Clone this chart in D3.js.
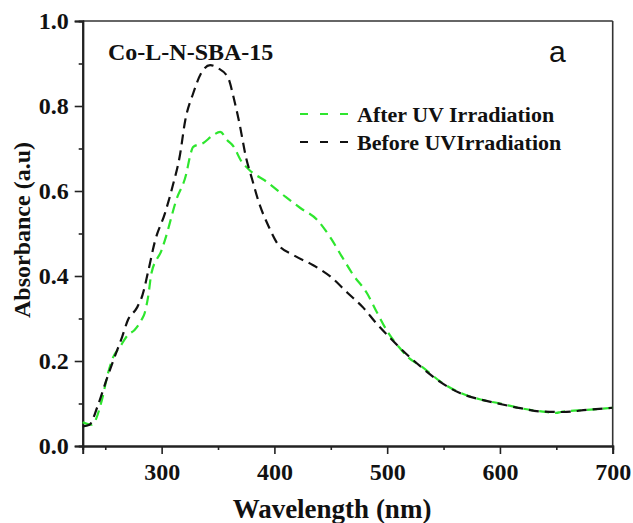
<!DOCTYPE html>
<html>
<head>
<meta charset="utf-8">
<script src="https://cdn.jsdelivr.net/npm/d3@7"></script>
<style>
  html, body { margin: 0; padding: 0; background: #fff; }
  svg { display: block; }
</style>
</head>
<body>
<svg id="chart" width="633" height="523"></svg>
<script>
// UV-Vis absorbance of Co-L-N-SBA-15 before and after UV irradiation
const beforeWavelength = [230, 236, 243, 251, 257, 265, 270, 278, 283, 288, 294, 303, 310, 316, 321, 328, 335, 343, 350, 359, 364, 369, 375, 380, 386, 395, 403, 417, 434, 450, 465, 479, 490, 502, 518, 531, 547, 565, 582, 600, 618, 638, 656, 677, 700];
const beforeAbsorbance = [0.046, 0.05, 0.092, 0.155, 0.2, 0.257, 0.296, 0.325, 0.355, 0.41, 0.481, 0.548, 0.614, 0.681, 0.767, 0.83, 0.877, 0.896, 0.889, 0.866, 0.818, 0.759, 0.677, 0.63, 0.575, 0.516, 0.475, 0.449, 0.426, 0.398, 0.36, 0.325, 0.29, 0.256, 0.214, 0.184, 0.151, 0.124, 0.11, 0.099, 0.089, 0.081, 0.08, 0.085, 0.09];

const afterWavelength = [230, 238, 247, 252, 257, 263, 270, 276, 282, 285, 288, 291, 300, 303, 313, 322, 325, 328, 337, 345, 352, 358, 364, 370, 378, 393, 410, 423, 438, 450, 460, 470, 482, 491, 501, 511, 518, 531, 547, 565, 582, 600, 618, 638, 650, 654, 677, 700];
const afterAbsorbance = [0.056, 0.05, 0.108, 0.167, 0.209, 0.233, 0.261, 0.273, 0.296, 0.313, 0.351, 0.407, 0.461, 0.485, 0.579, 0.642, 0.68, 0.704, 0.713, 0.73, 0.739, 0.72, 0.704, 0.673, 0.649, 0.622, 0.586, 0.56, 0.532, 0.489, 0.445, 0.402, 0.36, 0.314, 0.266, 0.231, 0.21, 0.186, 0.152, 0.125, 0.11, 0.1, 0.089, 0.081, 0.078, 0.08, 0.085, 0.09];

const xTicks = [300, 400, 500, 600, 700];
const xMinorTicks = [250, 350, 450, 550, 650];
const yTicks = [0.0, 0.2, 0.4, 0.6, 0.8, 1.0];
const yMinorTicks = [0.1, 0.3, 0.5, 0.7, 0.9];

const seriesNames = ["After UV Irradiation", "Before UVIrradiation"];
const seriesColors = ["#2ee62e", "#111111"];

const svg = d3.select("#chart");
const plotLeft = 82.7, plotRight = 612.7, plotTop = 21, plotBottom = 446;

const x = d3.scaleLinear().domain([230, 700]).range([plotLeft, plotRight]);
const y = d3.scaleLinear().domain([0, 1.0]).range([plotBottom, plotTop]);

const serif = "'Liberation Serif', 'Times New Roman', serif";

// frame (top and right)
svg.append("line").attr("x1", plotLeft).attr("x2", plotRight).attr("y1", plotTop).attr("y2", plotTop)
  .attr("stroke", "#333").attr("stroke-width", 1.6);
svg.append("line").attr("x1", plotRight).attr("x2", plotRight).attr("y1", plotTop).attr("y2", plotBottom)
  .attr("stroke", "#333").attr("stroke-width", 1.6);

// bottom axis
const xAxis = d3.axisBottom(x).tickValues(xTicks).tickFormat(d3.format("d")).tickSize(8).tickPadding(9);
const gx = svg.append("g").attr("transform", `translate(0,${plotBottom})`).call(xAxis);
gx.selectAll(".tick text").attr("font-family", serif).attr("font-weight", "bold").attr("font-size", 24).attr("fill", "#111");
gx.append("g").call(d3.axisBottom(x).tickValues(xMinorTicks).tickSize(4).tickFormat(""));

// left axis
const yAxis = d3.axisLeft(y).tickValues(yTicks).tickFormat(d3.format(".1f")).tickSize(8).tickPadding(6);
const gy = svg.append("g").attr("transform", `translate(${plotLeft},0)`).call(yAxis);
gy.selectAll(".tick text").attr("font-family", serif).attr("font-weight", "bold").attr("font-size", 24).attr("fill", "#111");
gy.append("g").call(d3.axisLeft(y).tickValues(yMinorTicks).tickSize(4).tickFormat(""));

svg.selectAll(".domain").attr("stroke", "#222").attr("stroke-width", 2);
svg.selectAll(".tick line").attr("stroke", "#222").attr("stroke-width", 1.6);

// axis titles
svg.append("text")
  .attr("x", 332).attr("y", 518)
  .attr("text-anchor", "middle")
  .attr("font-family", serif).attr("font-weight", "bold").attr("font-size", 27).attr("fill", "#111")
  .text("Wavelength (nm)");
svg.append("text")
  .attr("transform", "translate(30,230) rotate(-90)")
  .attr("text-anchor", "middle")
  .attr("font-family", serif).attr("font-weight", "bold").attr("font-size", 24).attr("fill", "#111")
  .text("Absorbance (a.u)");

// curves
const line = d3.line().x(d => x(d[0])).y(d => y(d[1])).curve(d3.curveMonotoneX);
const series = [
  d3.zip(afterWavelength, afterAbsorbance),
  d3.zip(beforeWavelength, beforeAbsorbance)
];
series.forEach((pts, i) => {
  svg.append("path")
    .datum(pts)
    .attr("d", line)
    .attr("fill", "none")
    .attr("stroke", seriesColors[i])
    .attr("stroke-width", 2.2)
    .attr("stroke-dasharray", "10,6");
});

// sample label and panel letter
svg.append("text")
  .attr("x", 108).attr("y", 60)
  .attr("font-family", serif).attr("font-weight", "bold").attr("font-size", 24).attr("fill", "#111")
  .text("Co-L-N-SBA-15");
svg.append("text")
  .attr("x", 549).attr("y", 62)
  .attr("font-family", "'Liberation Sans', Arial, sans-serif").attr("font-size", 30).attr("fill", "#111")
  .text("a");

// legend
const legend = svg.append("g");
seriesNames.forEach((name, i) => {
  const ly = 114 + i * 28;
  legend.append("line")
    .attr("x1", 300).attr("x2", 354).attr("y1", ly).attr("y2", ly)
    .attr("stroke", seriesColors[i]).attr("stroke-width", 2.2)
    .attr("stroke-dasharray", "8,12");
  legend.append("text")
    .attr("x", 357).attr("y", ly + 8)
    .attr("font-family", serif).attr("font-weight", "bold").attr("font-size", 22).attr("fill", "#111")
    .text(name);
});
</script>
</body>
</html>
